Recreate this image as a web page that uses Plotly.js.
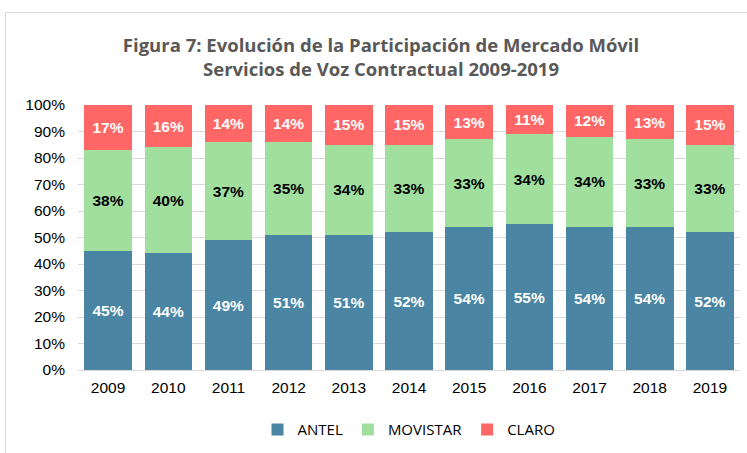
<!DOCTYPE html>
<html><head><meta charset="utf-8">
<script src="https://cdn.plot.ly/plotly-3.0.1.min.js"></script>
<style>
html,body{margin:0;padding:0;background:#fff;}
#frame{position:absolute;left:5px;top:12px;width:760px;height:460px;border:1px solid #d9d9d9;box-sizing:border-box;}
#chart{position:absolute;left:0;top:0;width:747px;height:453px;}
</style></head>
<body>
<div id="frame"></div>
<div id="chart"></div>
<script>
const years = ['2009','2010','2011','2012','2013','2014','2015','2016','2017','2018','2019'];
const antel = [45,44,49,51,51,52,54,55,54,54,52];
const movistar = [38,40,37,35,34,33,33,34,34,33,33];
const claro = [17,16,14,14,15,15,13,11,12,13,15];
const yTicks = [0,10,20,30,40,50,60,70,80,90,100];

function tr(name, vals, color, txtColor){
  return {type:'bar', name:name, x:years, y:vals,
    marker:{color:color},
    text: vals.map(v=>v+'%'), textposition:'inside', insidetextanchor:'middle',
    textfont:{family:'Liberation Sans, Arial, sans-serif', size:15.5, color:txtColor, weight:'bold'},
    hoverinfo:'skip'};
}
const data = [
  tr('ANTEL', antel, '#4A86A4', '#ffffff'),
  tr('MOVISTAR', movistar, '#A1DF9E', '#000000'),
  tr('CLARO', claro, '#FF6666', '#ffffff')
];
const layout = {
  width:747, height:453,
  paper_bgcolor:'rgba(0,0,0,0)', plot_bgcolor:'rgba(0,0,0,0)',
  barmode:'stack', bargap:0.21,
  margin:{l:78, r:7, t:105, b:83},
  title:{text:'<b>Figura 7: Evolución de la Participación de Mercado Móvil<br>Servicios de Voz Contractual 2009-2019</b>',
    font:{family:'Open Sans, sans-serif', size:18.5, color:'#595959'},
    x:381/747, xanchor:'center', xref:'container', yref:'container', y:(453-52)/453, yanchor:'middle'},
  xaxis:{type:'category', tickfont:{family:'Liberation Sans, Arial, sans-serif', size:15.5, color:'#000'},
    showline:true, linecolor:'#d9d9d9', linewidth:1, ticks:'', showgrid:false, ticklabelstandoff:3},
  yaxis:{range:[0,100], tickvals:yTicks, ticktext:yTicks.map(v=>v+'%'),
    tickfont:{family:'Liberation Sans, Arial, sans-serif', size:15.5, color:'#000'},
    showgrid:true, gridcolor:'#d9d9d9', gridwidth:1, zeroline:false, ticks:'', ticklen:0, automargin:false,
    ticklabelstandoff:12},
  legend:{orientation:'h', x:0.5, xanchor:'center', y:-0.225, yanchor:'middle',
    font:{family:'Open Sans, sans-serif', size:15, color:'#000'}, traceorder:'normal'},
  showlegend:true
};
Plotly.newPlot('chart', data, layout, {displayModeBar:false, staticPlot:true});
</script>
</body></html>
